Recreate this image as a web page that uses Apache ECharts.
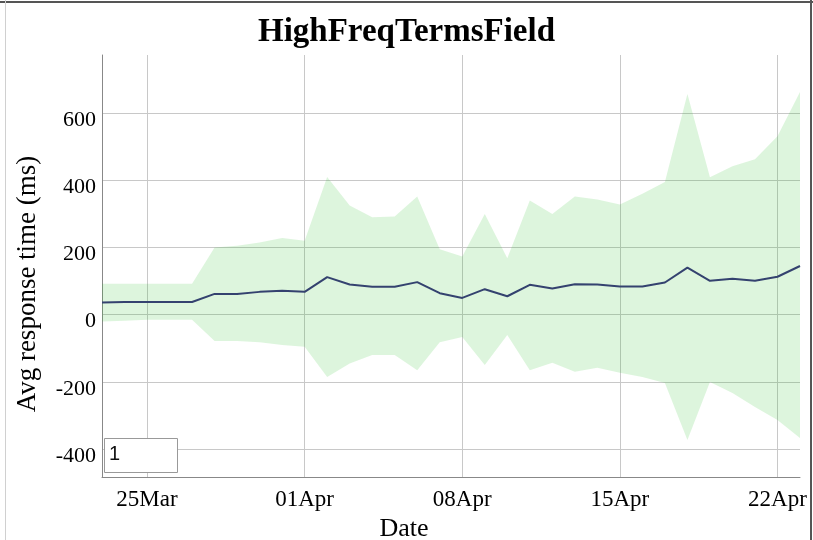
<!DOCTYPE html>
<html>
<head>
<meta charset="utf-8">
<title>HighFreqTermsField</title>
<script src="https://cdn.jsdelivr.net/npm/echarts@6/dist/echarts.min.js"></script>
<style>
    html, body { margin: 0; padding: 0; background: #fff; }
    #chart { width: 813px; height: 540px; }
</style>
</head>
<body>
<div id="chart"></div>
<script>
    // one point per day
    var dates = [
        '2014-03-23', '2014-03-24', '2014-03-25', '2014-03-26', '2014-03-27', '2014-03-28', '2014-03-29', '2014-03-30',
        '2014-03-31', '2014-04-01', '2014-04-02', '2014-04-03', '2014-04-04', '2014-04-05', '2014-04-06', '2014-04-07',
        '2014-04-08', '2014-04-09', '2014-04-10', '2014-04-11', '2014-04-12', '2014-04-13', '2014-04-14', '2014-04-15',
        '2014-04-16', '2014-04-17', '2014-04-18', '2014-04-19', '2014-04-20', '2014-04-21', '2014-04-22', '2014-04-23'
    ];
    var avgMs = [
        36, 38, 38, 38, 38, 62, 62, 68,
        71, 68, 112, 90, 83, 83, 97, 64,
        50, 76, 55, 89, 78, 91, 90, 84,
        84, 96, 140, 101, 107, 101, 113, 145
    ];
    var upperMs = [
        92, 92, 92, 92, 92, 200, 205, 215,
        228, 220, 410, 325, 290, 292, 352, 195,
        173, 300, 168, 340, 300, 352, 343, 328,
        360, 395, 657, 409, 442, 463, 531, 663
    ];
    var lowerMs = [
        -20, -18, -15, -15, -15, -78, -78, -82,
        -90, -95, -185, -145, -120, -120, -165, -82,
        -66, -150, -60, -165, -143, -170, -158, -173,
        -185, -203, -373, -200, -233, -275, -313, -367
    ];
    var xTicks = ['2014-03-25', '2014-04-01', '2014-04-08', '2014-04-15', '2014-04-22'];
    var yTicks = [-400, -200, 0, 200, 400, 600];
    var monthNames = ['Jan', 'Feb', 'Mar', 'Apr', 'May', 'Jun', 'Jul', 'Aug', 'Sep', 'Oct', 'Nov', 'Dec'];

    var chart = echarts.init(document.getElementById('chart'));

    // band drawn as lower + (upper - lower) stacked
    var bandSize = [];
    for (var i = 0; i < dates.length; i++) {
        bandSize.push(upperMs[i] - lowerMs[i]);
    }

    function isTick(index, value) {
        return xTicks.indexOf(value) >= 0;
    }

    var serif = '"Liberation Serif", "Times New Roman", serif';

    chart.setOption({
        animation: false,
        backgroundColor: '#fff',
        title: {
            text: 'HighFreqTermsField',
            left: 'center',
            top: 11,
            textStyle: {fontFamily: serif, fontSize: 33, fontWeight: 'bold', color: '#000'}
        },
        grid: {left: 102, right: 13, top: 55, bottom: 63, outerBoundsMode: 'none'},
        xAxis: {
            type: 'category',
            data: dates,
            boundaryGap: false,
            name: 'Date',
            nameLocation: 'middle',
            nameGap: 39,
            nameMoveOverlap: false,
            nameTextStyle: {fontFamily: serif, fontSize: 26, color: '#000', padding: [0, 94, 0, 0]},
            axisLine: {onZero: false, lineStyle: {color: '#888', width: 1}},
            axisTick: {show: false},
            axisLabel: {
                interval: isTick,
                fontFamily: serif, fontSize: 23, color: '#000', margin: 11,
                formatter: function (v) {
                    var p = v.split('-');
                    return p[2] + monthNames[+p[1] - 1];
                }
            },
            splitLine: {show: true, interval: isTick, lineStyle: {color: '#c8c8c8', width: 1}}
        },
        yAxis: {
            type: 'value',
            min: -483,
            max: 773,
            name: 'Avg response time (ms)',
            nameLocation: 'middle',
            nameGap: 61,
            nameMoveOverlap: false,
            nameTextStyle: {fontFamily: serif, fontSize: 27, color: '#000', padding: [0, 36, 0, 0]},
            axisLine: {show: true, lineStyle: {color: '#888', width: 1}},
            axisTick: {show: false, customValues: yTicks},
            axisLabel: {
                customValues: yTicks,
                fontFamily: serif, fontSize: 22, color: '#000', margin: 6,
                verticalAlign: 'top', lineHeight: 14
            },
            splitLine: {show: true, lineStyle: {color: '#c8c8c8', width: 1}}
        },
        series: [
            {
                name: 'lower',
                type: 'line',
                stack: 'band',
                stackStrategy: 'all',
                showSymbol: false,
                lineStyle: {opacity: 0},
                data: lowerMs,
                z: 1
            },
            {
                name: 'band',
                type: 'line',
                stack: 'band',
                stackStrategy: 'all',
                showSymbol: false,
                lineStyle: {opacity: 0},
                areaStyle: {color: 'rgba(46, 190, 46, 0.16)', opacity: 1},
                data: bandSize,
                z: 1
            },
            {
                name: 'avg',
                type: 'line',
                showSymbol: false,
                lineStyle: {color: '#34426f', width: 2},
                itemStyle: {color: '#34426f'},
                data: avgMs,
                z: 3
            }
        ],
        graphic: [
            // outer frame
            {type: 'line', shape: {x1: 0, y1: 2, x2: 813, y2: 2}, style: {stroke: '#555', lineWidth: 2}},
            {type: 'line', shape: {x1: 811, y1: 0, x2: 811, y2: 540}, style: {stroke: '#555', lineWidth: 2}},
            {type: 'line', shape: {x1: 5.5, y1: 0, x2: 5.5, y2: 540}, style: {stroke: '#d0d0d0', lineWidth: 1}},
            // roll period box
            {
                type: 'rect', left: 104, top: 438, z: 10,
                shape: {width: 73, height: 34},
                style: {fill: '#fff', stroke: '#999', lineWidth: 1}
            },
            {
                type: 'text', left: 109, top: 444, z: 11,
                style: {text: '1', fill: '#111', font: '20px "Liberation Sans", Arial, sans-serif'}
            }
        ]
    });
</script>
</body>
</html>
